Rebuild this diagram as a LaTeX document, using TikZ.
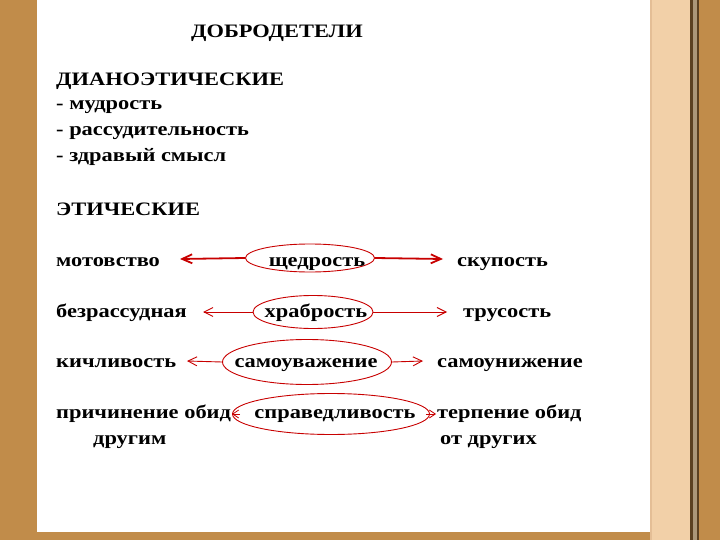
\documentclass[tikz,border=0pt]{standalone}
\usepackage{fontspec}
\setmainfont[FakeStretch=1.18]{Liberation Serif}
\usetikzlibrary{arrows.meta,shapes.geometric}
\definecolor{brownbar}{RGB}{193,140,74}
\definecolor{peach}{RGB}{242,208,168}
\definecolor{peachline}{RGB}{228,190,150}
\definecolor{darkline}{RGB}{90,64,32}
\definecolor{grayline}{RGB}{170,150,120}
\definecolor{arrred}{RGB}{200,0,0}
\begin{document}
\begin{tikzpicture}[x=1pt,y=-1pt,
  txt/.style={font=\bfseries\fontsize{19}{21}\selectfont, inner sep=0pt, anchor=base west},
  ctxt/.style={font=\bfseries\fontsize{19}{21}\selectfont, inner sep=0pt, anchor=base},
  virt/.style={draw=arrred, line width=0.9pt, ellipse, inner sep=0pt},
  conn/.style={draw=arrred, line width=0.9pt, -{Straight Barb[length=9pt,width=9pt]}},
  connthick/.style={draw=arrred, line width=1.8pt, -{Straight Barb[length=10pt,width=9pt]}},
  connsmall/.style={draw=arrred, line width=0.8pt, -{Straight Barb[length=6pt,width=8pt]}}]
% background
\useasboundingbox (0,0) rectangle (720,540);
\fill[brownbar] (0,0) rectangle (720,540);
\fill[peach] (650,0) rectangle (690,540);
\fill[peachline] (650,0) rectangle (652,540);
\fill[darkline] (690,0) rectangle (693,540);
\fill[grayline] (693,0) rectangle (697,540);
\fill[darkline] (697,0) rectangle (699,540);
\fill[white] (37,0) rectangle (650,532);
% title and lists
\node[ctxt] (title) at (277,38) {ДОБРОДЕТЕЛИ};
\node[txt] (dian) at (56,86) {ДИАНОЭТИЧЕСКИЕ};
\node[txt] (d1) at (56,110) {- мудрость};
\node[txt] (d2) at (56,136) {- рассудительность};
\node[txt] (d3) at (56,162) {- здравый смысл};
\node[txt] (eth) at (56,215) {ЭТИЧЕСКИЕ};
% row 1
\node[txt] (l1) at (56,266) {мотовство};
\node[txt] (r1) at (457,266) {скупость};
\node[virt, minimum width=129pt, minimum height=28pt] (e1) at (310,258) {};
\node[ctxt] (t1) at (317,266) {щедрость};
\coordinate (a1l) at (180,259);
\coordinate (a1r) at (443,259);
\draw[connthick] (e1.west) -- (a1l);
\draw[connthick] (e1.east) -- (a1r);
% row 2
\node[txt] (l2) at (56,317) {безрассудная};
\node[txt] (r2) at (463,317) {трусость};
\node[virt, minimum width=120pt, minimum height=33pt] (e2) at (313,312) {};
\node[ctxt] (t2) at (316,317) {храбрость};
\coordinate (a2l) at (203,312);
\coordinate (a2r) at (447,312);
\draw[conn] (e2.west) -- (a2l);
\draw[conn] (e2.east) -- (a2r);
% row 3
\node[txt] (l3) at (56,367) {кичливость};
\node[txt] (r3) at (437,367) {самоунижение};
\node[virt, minimum width=169pt, minimum height=45pt] (e3) at (307,362) {};
\node[ctxt] (t3) at (306,367) {самоуважение};
\coordinate (a3l) at (187,361);
\coordinate (a3r) at (423,361);
\draw[conn] (e3.west) -- (a3l);
\draw[conn] (e3.east) -- (a3r);
% row 4
\node[txt] (l4) at (56,418) {причинение обид};
\node[txt] (l4b) at (93,444) {другим};
\node[txt] (r4) at (437,418) {терпение обид};
\node[txt] (r4b) at (440,444) {от других};
\node[virt, minimum width=197pt, minimum height=41pt] (e4) at (331,414) {};
\node[ctxt] (t4) at (335,418) {справедливость};
\coordinate (a4l) at (232,414);
\coordinate (a4r) at (436,414);
\draw[connsmall] ([xshift=8pt]e4.west) -- (a4l);
\draw[connsmall] ([xshift=-4pt]e4.east) -- (a4r);
\end{tikzpicture}
\end{document}
